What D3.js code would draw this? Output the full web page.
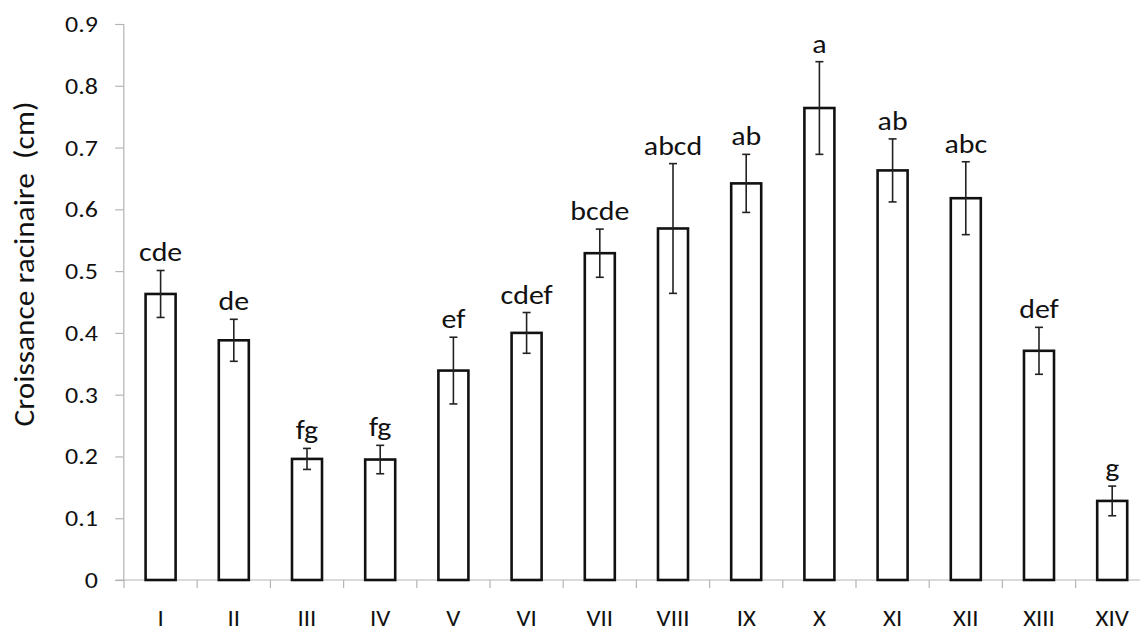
<!DOCTYPE html>
<html>
<head>
<meta charset="utf-8">
<script src="https://cdn.jsdelivr.net/npm/d3@7"></script>
<style>
  html, body { margin: 0; padding: 0; background: #fff; }
  svg { display: block; }
  text { font-family: "Carlito", "Lato", "Open Sans", sans-serif; fill: #111; white-space: pre; }
</style>
</head>
<body>
<svg id="chart" width="1140" height="632"></svg>
<script>
// Treatments (x categories)
const categories = ["I", "II", "III", "IV", "V", "VI", "VII", "VIII", "IX", "X", "XI", "XII", "XIII", "XIV"];
// Mean root growth (cm)
const means = [0.463, 0.388, 0.196, 0.195, 0.339, 0.400, 0.529, 0.569, 0.642, 0.764, 0.663, 0.618, 0.371, 0.128];
// Standard error (cm)
const errors = [0.038, 0.034, 0.017, 0.023, 0.054, 0.033, 0.039, 0.105, 0.047, 0.075, 0.051, 0.059, 0.038, 0.024];
// Significance groups
const groups = ["cde", "de", "fg", "fg", "ef", "cdef", "bcde", "abcd", "ab", "a", "ab", "abc", "def", "g"];
// Y-axis ticks and their labels
const yTicks = [0, 0.1, 0.2, 0.3, 0.4, 0.5, 0.6, 0.7, 0.8, 0.9];
const yTickLabels = ["0", "0.1", "0.2", "0.3", "0.4", "0.5", "0.6", "0.7", "0.8", "0.9"];
const yTitle = "Croissance racinaire  (cm)";

const svg = d3.select("#chart");

const x0 = 124, x1 = 1148.8;
const yBottom = 580, yTop = 24;

const x = d3.scaleBand()
  .domain(categories)
  .range([x0, x1])
  .paddingInner(0.59)
  .paddingOuter(0.295);

const y = d3.scaleLinear()
  .domain([0, 0.9])
  .range([yBottom, yTop]);

const axisColor = "#b5b5b5";

// Text drawn with a slight horizontal stretch
function wideText(sel, tx, ty, sx, size, anchor) {
  return sel.append("text")
    .attr("transform", d => `translate(${tx(d)},${ty(d)}) scale(${sx},1)`)
    .attr("text-anchor", anchor)
    .style("font-size", size + "px");
}

// Y axis (line and ticks)
const yAxis = svg.append("g")
  .attr("transform", `translate(${x0 - 0.7},0)`)
  .call(d3.axisLeft(y).tickValues(yTicks).tickSize(8).tickFormat(""));
yAxis.select(".domain").attr("stroke", axisColor).attr("stroke-width", 1.2);
yAxis.selectAll(".tick line").attr("stroke", axisColor).attr("stroke-width", 1.2);

// Y tick labels
const yl = svg.selectAll(".ylab").data(yTicks).enter().append("g").attr("class", "ylab");
wideText(yl, () => 98, d => y(d) + 8, 1.13, 23, "end")
  .text((d, i) => yTickLabels[i]);

// X axis line with tick marks on category boundaries
const step = x.step();
svg.append("line")
  .attr("x1", x0 - 8).attr("x2", x1)
  .attr("y1", yBottom).attr("y2", yBottom)
  .attr("stroke", axisColor).attr("stroke-width", 1.2);
svg.selectAll(".xtick")
  .data(d3.range(categories.length + 1))
  .enter().append("line")
  .attr("class", "xtick")
  .attr("x1", i => x0 + i * step)
  .attr("x2", i => x0 + i * step)
  .attr("y1", yBottom).attr("y2", yBottom + 8)
  .attr("stroke", axisColor).attr("stroke-width", 1.2);

// Category labels
const xl = svg.selectAll(".xlab").data(categories).enter().append("g").attr("class", "xlab");
wideText(xl, d => x(d) + x.bandwidth() / 2, () => 626, 1.08, 23, "middle")
  .text(d => d);

// Y title
svg.append("text")
  .attr("transform", `translate(34,264) rotate(-90) scale(1.12,1)`)
  .attr("text-anchor", "middle")
  .style("font-size", "28px")
  .text(yTitle);

const rows = categories.map((c, i) => ({ c, m: means[i], e: errors[i], g: groups[i] }));

// Bars
svg.selectAll(".bar")
  .data(rows)
  .enter().append("rect")
  .attr("class", "bar")
  .attr("x", d => x(d.c))
  .attr("y", d => y(d.m))
  .attr("width", x.bandwidth())
  .attr("height", d => y(0) - y(d.m))
  .attr("fill", "#fff")
  .attr("stroke", "#111")
  .attr("stroke-width", 2.6);

// Error bars
const eb = svg.selectAll(".err")
  .data(rows)
  .enter().append("g")
  .attr("class", "err")
  .attr("stroke", "#222")
  .attr("stroke-width", 1.6);
const cx = d => x(d.c) + x.bandwidth() / 2;
eb.append("line")
  .attr("x1", cx).attr("x2", cx)
  .attr("y1", d => y(d.m + d.e)).attr("y2", d => y(d.m - d.e));
eb.append("line")
  .attr("x1", d => cx(d) - 4).attr("x2", d => cx(d) + 4)
  .attr("y1", d => y(d.m + d.e)).attr("y2", d => y(d.m + d.e));
eb.append("line")
  .attr("x1", d => cx(d) - 4).attr("x2", d => cx(d) + 4)
  .attr("y1", d => y(d.m - d.e)).attr("y2", d => y(d.m - d.e));

// Significance letters
const gl = svg.selectAll(".grp").data(rows).enter().append("g").attr("class", "grp");
wideText(gl, cx, d => y(d.m + d.e) - 9, 1.15, 26, "middle")
  .text(d => d.g);
</script>
</body>
</html>
